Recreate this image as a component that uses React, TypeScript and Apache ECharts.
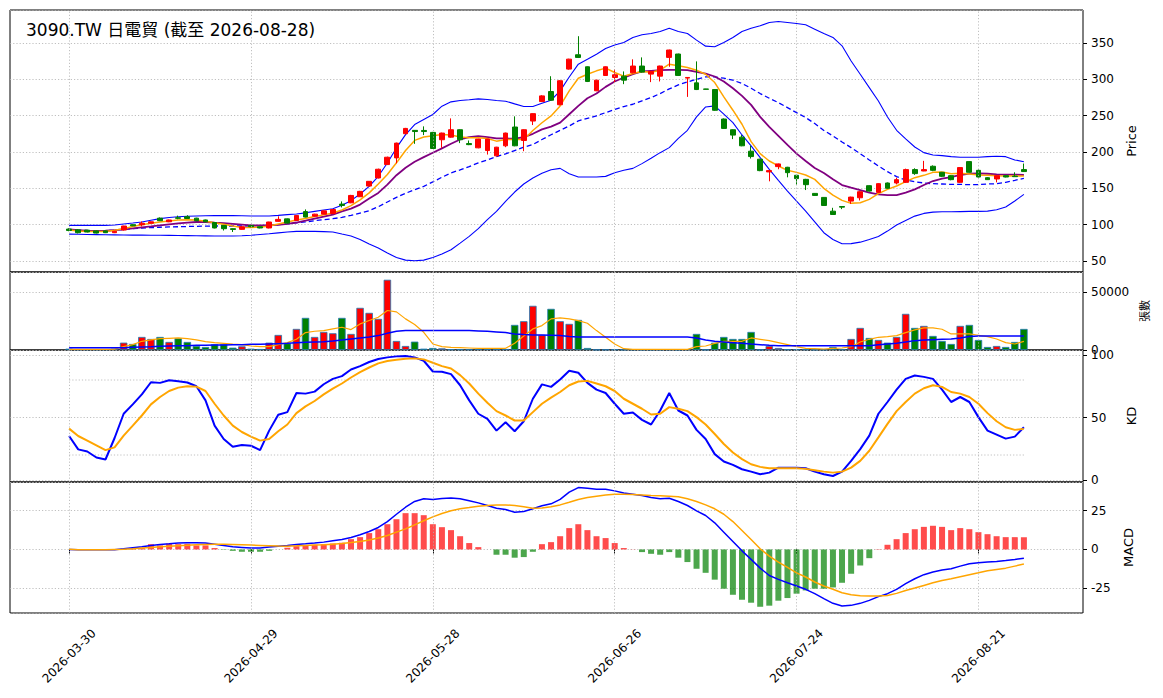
import { useEffect, useRef } from "react";
import * as echarts from "echarts";

// trading calendar (TWSE holidays inside the window)
const HOLIDAYS = ["2026-04-03", "2026-04-06", "2026-05-01", "2026-06-19"];

function tradingDays(start: string, end: string): string[] {
  const out: string[] = [];
  const d = new Date(start + "T00:00:00Z");
  const last = new Date(end + "T00:00:00Z");
  while (d <= last) {
    const wd = d.getUTCDay();
    const s = d.toISOString().slice(0, 10);
    if (wd !== 0 && wd !== 6 && !HOLIDAYS.includes(s)) out.push(s);
    d.setUTCDate(d.getUTCDate() + 1);
  }
  return out;
}

const dates = tradingDays("2026-03-30", "2026-08-28");
const tickEvery = 20;

const opens = [
  94, 93, 92.5, 91.5, 91.5, 89, 92.7, 100, 100, 102, 109, 104, 109.5, 111, 109, 106.5, 103, 99, 94.5, 93.6,
  99, 97.2, 95.5, 104.6, 108, 105.8, 118, 111.7, 114.5, 115.4, 128.3, 130.1, 138.4, 153.1, 164.2, 182.6, 191.8, 225, 229.6, 229.5,
  226.8, 216.7, 220.3, 230.5, 211.5, 205.6, 201.9, 194.6, 208.4, 234.2, 215.7, 242.4, 269.2, 283, 264.8, 313.8, 333.5, 317, 284, 305,
  302.3, 304.1, 308.7, 318, 306.9, 304.1, 329.9, 334.5, 301.4, 294.9, 286.5, 285.7, 245.2, 230.5, 220.3, 201, 190, 172.5, 179.8, 178.9,
  167.9, 162.3, 143, 137.5, 118.6, 125, 132.4, 137, 153.6, 144.4, 157.3, 157.3, 158.2, 175.7, 173.8, 180.3, 172, 167.4, 158.2, 186.7,
  174.7, 164.6, 162.8, 167.4, 166.8, 175.7,
];
const closes = [
  92, 89, 90, 88.5, 89, 91, 98.2, 98.5, 102, 104, 105.5, 106.5, 108.8, 108.5, 105.5, 104, 95.5, 94.5, 93.5, 97.2,
  97.2, 95.5, 103.7, 107.3, 102.2, 112.7, 110.5, 114.5, 119, 120.9, 126.4, 140.2, 145.8, 159.6, 176.2, 192.7, 212.1, 232.3, 228, 228,
  204.7, 225.9, 230.5, 216.7, 210, 217.6, 217.6, 206.5, 225.9, 208.4, 230.5, 252.6, 277, 271, 297.8, 327.5, 329.8, 296.8, 298.6, 317,
  306, 298.6, 318, 309.7, 310.6, 318, 340, 305.1, 302.3, 285.7, 286, 257.2, 232.3, 223.1, 208.4, 193.6, 174.3, 174.3, 183.5, 171.5,
  163.3, 155, 140.2, 126.4, 114, 124.1, 137.9, 145.3, 146.2, 156.4, 150, 161.9, 175.7, 170.2, 175.7, 174.7, 166.5, 161.9, 178.5, 172,
  165.5, 161.9, 167.4, 165.5, 166, 173,
];
const lows = [
  91, 88, 89.5, 88, 88.5, 88.5, 92, 98, 97.5, 101.5, 105, 103.5, 107.5, 108, 105, 103.5, 95, 92, 90, 93,
  96.5, 95, 95, 104, 101.5, 105.5, 110, 111, 114, 115, 123.7, 129.5, 138, 152.5, 163.5, 182, 184.4, 224.5, 211.1, 223.1,
  204, 205.6, 219.5, 212.1, 209.3, 205, 196.4, 194, 206.5, 207.8, 201, 236.9, 268.5, 270.5, 264, 313, 329, 296, 283.5, 304.5,
  295, 293.1, 308, 309, 295.9, 296.8, 317, 304.5, 275.6, 285, 285.8, 256.5, 231.5, 217.6, 207.8, 190.9, 173.5, 159.6, 176.2, 165.1,
  155, 147.6, 139.5, 126, 113.5, 121.4, 128.7, 133.3, 145.5, 144, 149.5, 155.4, 157.5, 168.5, 173.5, 173.5, 165.5, 161, 157.5, 171.5,
  165, 161.5, 158.2, 165, 165.5, 172.5,
];
const highs = [
  95, 94, 93, 92, 92, 91.5, 98.5, 100.5, 104.5, 104.5, 110, 107, 112.5, 113, 109.5, 107, 103.5, 99.5, 95, 97.5,
  99.5, 97.5, 104, 111.5, 108.5, 113, 121, 115, 119.5, 121.5, 132, 141, 146.5, 160, 177, 193.5, 212.8, 233, 230, 235.1,
  227.5, 226.5, 246.1, 231, 215.7, 218, 218, 207, 226.5, 248.9, 231, 253, 278, 304, 298.5, 328, 359, 317.5, 299, 317.5,
  313.3, 310.6, 327.2, 329.9, 311, 318.5, 340.5, 335, 302.8, 324.4, 286.7, 286, 246, 231, 223.1, 208.4, 190.5, 175, 184, 179.5,
  168.5, 163, 143.5, 138, 123.2, 125.5, 138.5, 146, 154, 157, 158, 164.6, 177, 177.5, 187.7, 181.5, 172.5, 168, 179, 187,
  176, 165.5, 168, 168, 172, 184,
];

const ma5 = [
  92.7, 91.5, 90.8, 90.6, 90.8, 92.3, 94.5, 97.5, 100, 102, 103.7, 105.2, 106.4, 106.8, 106.4, 104.6, 102.8, 100.5, 98.2, 96.3,
  96.3, 96.5, 98.2, 101, 103.7, 106.5, 108.5, 111.3, 113.5, 116, 120.2, 126.2, 134, 143.7, 156, 169, 185, 202, 215.8, 220.4,
  222.2, 224, 223.1, 220.4, 219.4, 219.4, 218.5, 214.8, 217.1, 217.1, 217.1, 229.5, 240.1, 249.5, 263.2, 283.9, 301.3, 306.8, 311.4, 315.1,
  309.1, 304, 307.7, 310.5, 309.6, 312.3, 320.6, 318.3, 316, 312.3, 306.8, 295.3, 275.6, 257.3, 238, 214.1, 197.6, 187.5, 180.7, 174.7,
  171.9, 168.3, 162.3, 150, 140.7, 133.4, 129.3, 130.2, 134.8, 142.6, 148.5, 153.1, 159.1, 164.6, 167.8, 171.9, 172.4, 170.1, 170.6, 169.6,
  168.3, 168, 167.3, 167, 166.9, 167,
];
const ma10 = [
  93.6, 92.5, 91.7, 91.5, 91.7, 92.5, 93.6, 95, 96.3, 97.6, 99, 100.4, 101.8, 102.8, 103.7, 103.7, 102.8, 102, 101, 100,
  99, 99, 99, 99.8, 101, 103, 105.5, 108.3, 111, 113.8, 118.4, 122.1, 127.6, 135.9, 143.7, 155.1, 168, 178.2, 186.4, 192.8,
  198.8, 204.8, 211.2, 217.1, 220.4, 221.7, 220.4, 218.5, 218.5, 218.1, 220.4, 224.9, 230.9, 234.7, 240.3, 251.8, 263.2, 273.8, 280.2, 289.4,
  296.7, 302.2, 306.8, 310.5, 311.4, 312.3, 312.8, 312.8, 312.3, 310, 307.7, 303.6, 296.7, 287.5, 277, 264.6, 248.1, 234.3, 221.9, 209.6,
  197.6, 187.5, 178, 171, 162.3, 154.5, 150.8, 147.6, 144, 141.7, 140.7, 140.7, 144, 148.5, 154.5, 160, 163.2, 165.5, 168.3, 170.1,
  170.6, 170, 169.2, 168.8, 168.8, 168.3,
];
const ma20 = [
  92.7, 92.3, 92, 91.8, 91.7, 92.5, 93.5, 94.5, 95.4, 96, 96.5, 96.9, 97.2, 97.5, 97.8, 98, 98.2, 98.2, 98.2, 98.2,
  98.2, 98.6, 99, 100, 101.2, 102.7, 103.8, 105.5, 106.8, 108.2, 110.1, 112.8, 116, 119.2, 124.7, 131.2, 137.6, 143.1, 148.1, 152.7,
  158.8, 165.2, 171.2, 175.3, 179.9, 184.9, 189.1, 193.7, 197.3, 201.9, 206.5, 210.2, 217, 223.6, 229.7, 235.7, 242.6, 246.2, 249.5, 254,
  258.2, 262.3, 265.5, 270.1, 274.7, 280.2, 286.6, 292.1, 296.2, 299.9, 303.1, 303.1, 301.3, 298.5, 294, 287.5, 280.2, 273.8, 267.8, 260.9,
  254, 247.2, 239, 229.5, 221.9, 213.7, 205.9, 197.6, 189, 180.7, 172.9, 166, 161.4, 159.1, 157.3, 156.3, 155.9, 155.4, 155.4, 155,
  155, 155.9, 156.3, 158.2, 160.9, 163.7,
];
const bbUpper = [
  99, 99, 99, 99, 99, 99.5, 101, 102.3, 103.7, 106, 108.3, 109.8, 111, 111.5, 112, 112.2, 112.4, 112.4, 112.4, 112.2,
  112, 112, 112, 112.8, 113.8, 114.7, 116.3, 118.3, 120.2, 122, 126.6, 133, 142.2, 152.7, 166.5, 184.8, 205.5, 223.8, 237.6, 244.5,
  251.4, 262.8, 268.8, 270.6, 271.6, 272.9, 272, 270.6, 269.7, 266, 262.4, 262.4, 266.9, 271, 283.9, 303, 320.6, 327.4, 334.3, 342,
  347, 350.4, 357.3, 360.9, 362.8, 365.5, 370, 365.5, 362.8, 353.6, 345.3, 344.4, 350.4, 357.3, 365.5, 370, 373.3, 377.9, 379.3, 377.9,
  376.5, 374.7, 368.7, 362.8, 357.3, 345.8, 325, 306.8, 288.4, 270, 248, 229.7, 218, 206.8, 199, 195.8, 194.9, 193.5, 192.6, 192.6,
  192.6, 193.5, 194, 193.5, 189, 186.6,
];
const bbLower = [
  87, 86.8, 86.6, 86.4, 86.2, 86, 85.8, 85.7, 85.6, 85.5, 85.4, 85.3, 85.2, 85, 84.8, 84.6, 84.4, 84.4, 84.4, 84.8,
  85.4, 86.5, 87.6, 88.8, 90, 90.8, 91, 90.8, 90.5, 89.9, 87.1, 84.4, 79.8, 73.4, 67.9, 61, 55, 51.3, 50.4, 51.3,
  55, 59.6, 65.6, 74.7, 83.9, 94.5, 106.9, 118.3, 132.1, 144.9, 155.9, 164.2, 170.6, 175.6, 177.4, 170.1, 165.5, 165.5, 165.5, 166.4,
  171.5, 174.7, 177.4, 183.9, 191.2, 199, 205.9, 218.7, 229.7, 248.1, 261.8, 263.2, 251.8, 240.3, 223.3, 208.2, 192.1, 176, 160.9, 146.2,
  132.5, 118.7, 104, 89, 79.7, 73.8, 74, 76, 79.7, 83.9, 91.2, 99.5, 105.9, 111.8, 115.5, 117.3, 117.7, 117.7, 118, 118.3,
  118.3, 118.7, 120.6, 124.2, 132.5, 141.7,
];

const volumes = [
  1150, 575, 575, 575, 575, 1150, 6320, 5170, 11210, 9480, 11210, 6900, 10060, 6900, 3450, 2590, 4890, 4890, 2010, 3160,
  1150, 860, 6320, 12930, 5750, 18110, 27590, 11210, 15520, 14370, 27590, 13800, 36210, 31900, 26730, 60350, 7760, 3450, 7190, 1150,
  1720, 1440, 575, 575, 575, 860, 860, 860, 860, 21550, 24720, 37940, 12930, 35350, 24720, 22420, 25870, 1720, 300, 400,
  500, 300, 400, 300, 300, 400, 500, 300, 600, 13800, 300, 6320, 11210, 9480, 9480, 15520, 300, 3450, 1720, 575,
  575, 575, 300, 300, 2590, 575, 9480, 18970, 10350, 8620, 6320, 11210, 31040, 18970, 20690, 12070, 7760, 5170, 20690, 21550,
  8620, 2590, 3450, 2590, 6900, 18100,
];
const volMa5 = [
  575, 575, 575, 575, 575, 800, 2870, 4600, 7470, 8620, 9770, 10060, 10350, 9770, 8620, 7190, 6320, 5750, 5170, 4600,
  3450, 2870, 2870, 4600, 6320, 9200, 14940, 16090, 16670, 18110, 19540, 17530, 22420, 25290, 28170, 33910, 32760, 26730, 21840, 15230,
  5170, 2870, 2300, 2010, 1720, 1440, 1440, 1440, 1440, 5750, 12070, 18110, 20980, 26730, 27590, 26730, 25290, 22990, 16670, 10920,
  5170, 1150, 575, 575, 575, 575, 575, 575, 575, 2870, 3450, 5750, 7470, 7470, 7470, 10350, 9200, 8050, 6320, 4600,
  2870, 1440, 1150, 860, 1440, 1720, 2870, 6900, 9200, 10920, 11500, 12360, 14940, 17240, 18970, 18970, 17820, 13800, 13800, 13800,
  12650, 11500, 9480, 6320, 5170, 7470,
];
const volMa20 = [
  2010, 2010, 2010, 2010, 2010, 2010, 2010, 2300, 2590, 2870, 3160, 3450, 3740, 3740, 4020, 4020, 4310, 4310, 4600, 4600,
  4890, 4890, 5170, 5460, 5750, 6320, 6610, 6900, 7190, 7760, 8620, 9480, 10350, 11210, 12360, 14370, 16090, 16670, 16670, 16670,
  16670, 16670, 16670, 16670, 16670, 16380, 16090, 15520, 14940, 13800, 13220, 12930, 12930, 12650, 12360, 11500, 11210, 11210, 11210, 11210,
  11210, 11210, 11210, 11210, 11210, 11210, 11210, 11210, 11210, 10350, 8620, 7470, 6900, 6320, 5750, 5170, 4600, 4020, 3740, 3740,
  3740, 3740, 3740, 3740, 3740, 3740, 3740, 3740, 3740, 4600, 5170, 5750, 6900, 8050, 8620, 8910, 9200, 9480, 10350, 11500,
  12070, 12070, 12070, 12070, 12070, 12070,
];

const kLine = [
  35.2, 24.5, 22.8, 18, 16.4, 33.6, 53, 60.5, 68.5, 78.2, 77.7, 79.8, 79, 78, 75, 63.7, 43.5, 32.8, 26.6, 28,
  27.4, 23.9, 39.5, 52.2, 54.3, 69.6, 69.1, 70.7, 76.6, 80.9, 83.1, 88.4, 91.1, 94.4, 96.8, 98.1, 98.9, 99.2, 98.1, 95.4,
  86.8, 86.6, 84.7, 75.8, 63.7, 53, 48.9, 39.5, 46.2, 39, 47, 65, 76.5, 74.5, 80.4, 87.4, 85.8, 77.7, 72.3, 69.6,
  61, 53, 54, 48.1, 44.4, 55.6, 69.6, 55.6, 51.6, 40.1, 32.8, 20.7, 14.8, 12.1, 8.6, 6.7, 4.6, 5.9, 9.9, 9.9,
  9.9, 9.4, 6.7, 4.6, 3.2, 6.7, 15.3, 24.7, 35.5, 53, 62.4, 72.3, 80.9, 83.6, 82.5, 80.9, 72.3, 62.4, 66.4, 62.4,
  50.3, 39.5, 36.3, 33.1, 34.7, 42.2,
];
const dLine = [
  41.1, 35.2, 31.5, 27.7, 23.9, 26.1, 35.5, 43.5, 51.6, 60.5, 66.4, 71.2, 73.9, 75, 74.7, 71.2, 61, 51.6, 43.5, 38.4,
  34.7, 31.5, 32.8, 39, 44.4, 53.5, 58.9, 63.2, 68.5, 73.1, 77.2, 82, 86.3, 90, 93.3, 95.2, 96.2, 97, 97.3, 96.5,
  93.8, 91.1, 89.2, 83.9, 77.2, 69.1, 61.8, 55.1, 51.6, 47.6, 47.6, 54.3, 61, 65.9, 70.4, 75.8, 78.8, 79.3, 77.2, 75,
  71.2, 65, 61, 57, 52.4, 53, 58.3, 57, 55.1, 50.3, 44.4, 36.8, 28.8, 22, 16.7, 12.6, 10.5, 9.4, 9.4, 9.4,
  9.4, 8.9, 7.8, 6.7, 5.9, 6.7, 9.9, 15.3, 23.4, 34.1, 44.9, 55.1, 62.4, 69.1, 73.4, 75.8, 74.5, 70.4, 69.1, 66.4,
  61, 53.5, 47, 42.2, 40.1, 40.9,
];
const kdLevels = [20, 80];

const dif = [
  0, -0.2, -0.2, -0.2, -0.2, -0.2, 0.4, 1.1, 1.7, 2.6, 3.2, 3.6, 4.1, 4.3, 4.3, 4.1, 3.4, 2.6, 1.7, 1.3,
  0.9, 0.9, 1.5, 2.1, 2.6, 3.2, 3.6, 4.1, 4.7, 5.6, 6.4, 7.7, 9.4, 11.5, 14.1, 17.9, 22.6, 27.1, 30.8, 32.5,
  32.1, 32.7, 33.1, 32.5, 31.2, 29.9, 28.2, 26.5, 25.6, 23.9, 24.4, 26.1, 28, 29.3, 32.1, 36.8, 39.7, 39.3, 38.7, 38.7,
  37.6, 36.3, 35.5, 34.6, 33.3, 32.5, 32.9, 30.8, 28.2, 24.8, 21.8, 17.1, 11.1, 5.1, -0.9, -6.4, -12, -16.7, -19.2, -21.4,
  -23.5, -25.6, -28.4, -31.6, -34.6, -36.3, -35.9, -34.6, -32.7, -30.3, -28.4, -25.6, -22, -18.8, -16.2, -14.5, -13.2, -12.4, -10.7, -9.2,
  -8.5, -8.1, -7.7, -7.1, -6.4, -5.6,
];
const dea = [
  0.2, -0.2, -0.2, -0.2, -0.2, 0, 0.2, 0.5, 0.9, 1.3, 1.7, 2.1, 2.4, 2.7, 3, 3.2, 3.4, 3.4, 3.2, 3,
  2.8, 2.6, 2.4, 2.2, 2.1, 2.3, 2.6, 2.8, 3, 3.4, 3.8, 4.4, 5.1, 6.1, 7.3, 9, 11.1, 13.2, 15.8, 18.4,
  20.9, 23.1, 24.8, 26.1, 26.9, 27.8, 28.2, 28.6, 28.6, 28.2, 27.4, 26.5, 26.6, 27.4, 28.6, 30.3, 32.1, 33.3, 34.2, 35,
  35.5, 35.5, 35.3, 35, 34.6, 34.4, 34.2, 33.8, 32.5, 30.8, 28.6, 26.1, 22.6, 17.9, 12.2, 6.4, 0.4, -4.3, -8.1, -11.5,
  -15, -17.7, -20.9, -23.5, -25.6, -27.8, -29.1, -29.7, -29.9, -29.9, -29.5, -28.2, -26.3, -24.8, -23.1, -21.4, -19.9, -18.8, -17.5, -16.2,
  -15, -13.7, -12.8, -12, -10.7, -9.4,
];
const macdHist = [
  0, -0.1, -0.1, -0.1, -0.1, 0.1, 0.3, 0.6, 0.9, 3.4, 2.6, 3.8, 3.4, 3.6, 2.6, 2.6, 0.9, -0.2, -0.9, -1.5,
  -1.5, -1.5, -0.9, 0, 1.1, 2.1, 2.6, 3, 3.4, 3.8, 4.3, 6.6, 7.9, 10.5, 13, 16.2, 19.4, 23.3, 23.3, 22,
  16.2, 14.3, 12.4, 8.5, 4.1, 1.5, 0, -3.4, -3.4, -5.3, -4.9, -1.5, 3.4, 4.7, 8.5, 13.7, 16.2, 12.4, 8.5, 7.3,
  4.1, 0.9, 0.1, -1.7, -2.8, -3.4, -1.7, -5.3, -8.1, -12.4, -15, -19.4, -25.2, -29.1, -32.3, -34.2, -36.8, -36.1, -32.9, -31.2,
  -28.4, -26.3, -25.2, -25.2, -24.4, -21.4, -15.6, -10.3, -5.6, 0.2, 3, 6.6, 10.5, 13, 14.5, 15.2, 14.5, 12.4, 13.7, 13,
  11.1, 9.8, 8.5, 7.9, 7.9, 7.9,
];

// empty slots either side so the first and last bars sit inside the frame
const PAD = 6;
const cats = [
  ...Array.from({ length: PAD }, (_, i) => `pad-l${i}`),
  ...dates,
  ...Array.from({ length: PAD }, (_, i) => `pad-r${i}`),
];
const pad = <T,>(arr: T[]): (T | "-")[] => [
  ...Array(PAD).fill("-"),
  ...arr,
  ...Array(PAD).fill("-"),
];
const tickDates = dates.filter((_, i) => i % tickEvery === 0);
const isTick = (idx: number) => {
  const i = idx - PAD;
  return i >= 0 && i < dates.length && i % tickEvery === 0;
};

const FONT = "'DejaVu Sans', 'Noto Sans CJK TC', sans-serif";
const RED = "#ff0000";
const GREEN = "#008000";
const GRID_LINE = { color: "#b0b0b0", width: 0.8, type: [1.2, 2] as number[] };

const GRIDS = [
  { top: 10, height: 262 },
  { top: 272, height: 78 },
  { top: 350, height: 132 },
  { top: 482, height: 131 },
];

function xAxis(k: number) {
  const bottom = k === GRIDS.length - 1;
  return {
    type: "category",
    gridIndex: k,
    data: cats,
    boundaryGap: true,
    axisLine: { show: false },
    splitLine: { show: false },
    axisTick: {
      show: bottom,
      alignWithLabel: true,
      interval: (idx: number) => isTick(idx),
      length: 4,
      lineStyle: { color: "#000", width: 1 },
    },
    axisLabel: {
      show: bottom,
      interval: (idx: number) => isTick(idx),
      rotate: 45,
      align: "center",
      verticalAlign: "middle",
      margin: 43,
      fontSize: 12,
      color: "#000",
      fontFamily: FONT,
    },
  };
}

function yAxis(
  k: number,
  min: number,
  max: number,
  step: number,
  name: string,
  nameGap: number,
  nameSize: number,
  showMin: boolean,
  fmt?: (v: number) => string,
) {
  return {
    type: "value",
    gridIndex: k,
    position: "right",
    min,
    max,
    minInterval: step,
    maxInterval: step,
    splitNumber: Math.round((max - min) / step),
    name,
    nameLocation: "middle",
    nameRotate: 90,
    nameGap,
    nameTextStyle: { fontSize: nameSize, color: "#000", fontFamily: FONT },
    axisLine: { show: false },
    axisTick: { show: true, length: 4, lineStyle: { color: "#000" } },
    axisLabel: {
      color: "#000",
      fontSize: 12,
      fontFamily: FONT,
      margin: 8,
      showMinLabel: showMin,
      showMaxLabel: false,
      formatter: fmt,
    },
    splitLine: { show: true, lineStyle: GRID_LINE },
  };
}

// vertical grid lines at the labelled dates (category centres, not band edges)
function vGrid(k: number) {
  return {
    type: "line",
    xAxisIndex: k,
    yAxisIndex: k,
    data: [],
    silent: true,
    z: 1,
    markLine: {
      silent: true,
      symbol: ["none", "none"],
      label: { show: false },
      lineStyle: GRID_LINE,
      emphasis: { disabled: true },
      data: tickDates.map((d) => ({ xAxis: d })),
    },
  };
}

function line(k: number, data: number[], color: string, width: number, type: any = "solid", z = 3) {
  return {
    type: "line",
    xAxisIndex: k,
    yAxisIndex: k,
    data: pad(data),
    showSymbol: false,
    symbol: "none",
    lineStyle: { color, width, type },
    z,
    silent: true,
  };
}

function buildOption(): any {
  const candles = dates.map((_, i) => [opens[i], closes[i], lows[i], highs[i]]);
  const volBars = volumes.map((v, i) => ({
    value: v,
    itemStyle: { color: closes[i] >= opens[i] ? RED : GREEN },
  }));
  const histBars = macdHist.map((v) => ({
    value: v,
    itemStyle: { color: v >= 0 ? "rgba(255,0,0,0.7)" : "rgba(0,128,0,0.7)" },
  }));
  const first = dates[0];
  const last = dates[dates.length - 1];

  const levelLines = kdLevels.map((lv) => ({
    type: "line",
    xAxisIndex: 2,
    yAxisIndex: 2,
    data: [
      [first, lv],
      [last, lv],
    ],
    showSymbol: false,
    symbol: "none",
    silent: true,
    z: 1,
    lineStyle: GRID_LINE,
  }));

  return {
    animation: false,
    backgroundColor: "#fff",
    textStyle: { fontFamily: FONT },
    title: {
      text: "3090.TW 日電貿 (截至 2026-08-28)",
      left: 26,
      top: 21,
      padding: 0,
      textStyle: { fontSize: 17, fontWeight: "normal", color: "#000", fontFamily: FONT },
    },
    grid: GRIDS.map((g) => ({
      left: 10,
      width: 1073,
      top: g.top,
      height: g.height,
      show: true,
      borderColor: "#000",
      borderWidth: 1,
      backgroundColor: "transparent",
    })),
    xAxis: GRIDS.map((_, k) => xAxis(k)),
    yAxis: [
      yAxis(0, 35, 395, 50, "Price", 39, 13, false),
      yAxis(1, 0, 67000, 50000, "張數", 57, 11, true, (v: number) => String(v)),
      yAxis(2, -1.6, 104, 50, "KD", 40, 13, false),
      yAxis(3, -40.8, 43.3, 25, "MACD", 38, 13, false),
    ],
    series: [
      vGrid(0),
      vGrid(1),
      vGrid(2),
      vGrid(3),
      ...levelLines,

      line(0, bbUpper, "#0000ff", 1.1),
      line(0, bbLower, "#0000ff", 1.1),
      line(0, ma20, "#0000ff", 1.3, [5, 3]),
      line(0, ma10, "#800080", 1.8),
      line(0, ma5, "#ffa500", 1.5),
      {
        type: "candlestick",
        xAxisIndex: 0,
        yAxisIndex: 0,
        data: pad(candles),
        barWidth: "58%",
        z: 4,
        silent: true,
        itemStyle: {
          color: RED,
          color0: GREEN,
          borderColor: RED,
          borderColor0: GREEN,
          borderWidth: 1,
        },
      },

      {
        type: "bar",
        xAxisIndex: 1,
        yAxisIndex: 1,
        data: pad(volBars),
        barWidth: "82%",
        silent: true,
        itemStyle: { borderColor: "#1f77b4", borderWidth: 0.8 },
      },
      line(1, volMa5, "#ffa500", 1.2),
      line(1, volMa20, "#0000ff", 1.5),

      line(2, kLine, "#0000ff", 2),
      line(2, dLine, "#ffa500", 2),

      {
        type: "bar",
        xAxisIndex: 3,
        yAxisIndex: 3,
        data: pad(histBars),
        barWidth: "66%",
        silent: true,
      },
      line(3, dif, "#0000ff", 1.5),
      line(3, dea, "#ffa500", 1.5),
    ],
  };
}

export default function App() {
  const nodeRef = useRef<HTMLDivElement | null>(null);

  useEffect(() => {
    if (!nodeRef.current) return;
    const chart = echarts.init(nodeRef.current, undefined, { renderer: "svg" });
    chart.setOption(buildOption());
    return () => chart.dispose();
  }, []);

  return (
    <div
      ref={nodeRef}
      style={{ position: "absolute", left: 0, top: 0, width: 1163, height: 698, background: "#fff" }}
    />
  );
}
